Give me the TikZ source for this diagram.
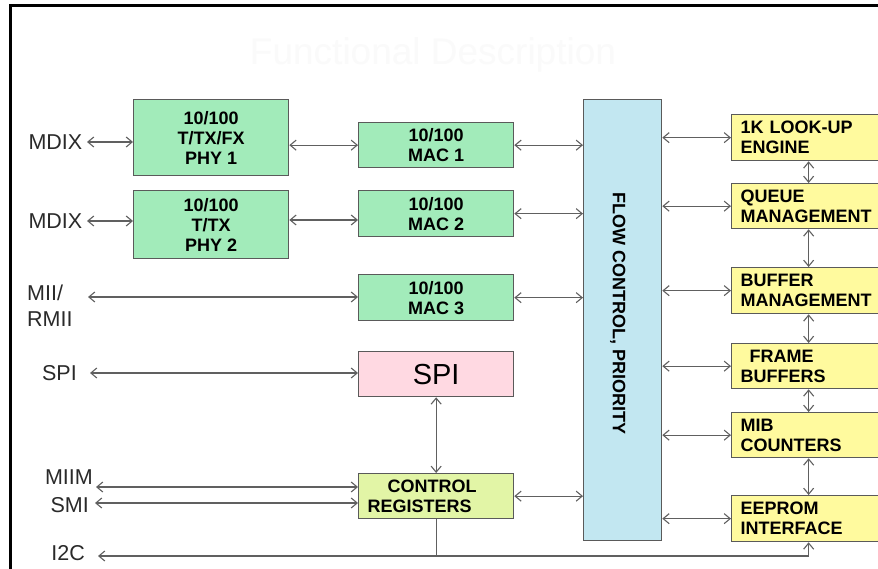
\documentclass[tikz,border=0pt]{standalone}
\usepackage{fontspec}
\setmainfont{Liberation Sans}
\usetikzlibrary{arrows.meta}

\definecolor{linegray}{HTML}{606060}
\definecolor{boxedge}{HTML}{5A5A5A}
\definecolor{macgreen}{HTML}{A2EBBA}
\definecolor{flowblue}{HTML}{C2E7F1}
\definecolor{blockyellow}{HTML}{FFFA9E}
\definecolor{regyellow}{HTML}{E2F5A6}
\definecolor{spipink}{HTML}{FFD9E2}
\definecolor{labelgray}{HTML}{2A2A2A}
\definecolor{titlegray}{HTML}{FAFAFA}

\tikzset{
  pbarb/.tip={Straight Barb[length=6pt,width=10pt]},
  box/.style={draw=boxedge, line width=1.3pt, inner sep=0pt, align=center,
              font=\bfseries\fontsize{18}{20}\selectfont, anchor=north west},
  greenbox/.style={box, fill=macgreen, minimum width=155},
  yellowbox/.style={box, fill=blockyellow, minimum width=154, text width=136,
                    inner xsep=9pt, align=left},
  port/.style={inner sep=0pt, text=labelgray, font=\fontsize{21.5}{26}\selectfont},
  arr/.style={draw=linegray, line width=1.1pt, pbarb-pbarb},
  wire/.style={draw=linegray, line width=1.1pt}
}

\begin{document}
\begin{tikzpicture}[x=1pt,y=-1pt]
\useasboundingbox (0,0) rectangle (878,569);
\fill[white] (0,0) rectangle (878,569);

% outer frame
\draw[black, line width=2.6pt] (10.3,5.3) rectangle (900,600);

% heading
\node[text=titlegray, font=\fontsize{37}{40}\selectfont] (title) at (433,55) {Functional Description};

% PHY and MAC blocks
\node[greenbox, minimum height=76] (phy1) at (133,99) {\raisebox{-3pt}{\parbox{150pt}{\centering 10/100\\T/TX/FX\\PHY 1}}};
\node[greenbox, minimum height=68] (phy2) at (133,190) {10/100\\T/TX\\PHY 2};
\node[greenbox, minimum height=45] (mac1) at (358,122) {10/100\\MAC 1};
\node[greenbox, minimum height=46] (mac2) at (358,190) {10/100\\MAC 2};
\node[greenbox, minimum height=46] (mac3) at (358,274) {10/100\\MAC 3};

% SPI and control registers
\node[box, fill=spipink, minimum width=155, minimum height=45,
      font=\fontsize{29}{32}\selectfont] (spi) at (358,351) {SPI};
\node[box, fill=regyellow, minimum width=155, minimum height=45, text width=137,
      inner xsep=9pt, align=left] (ctrl) at (358,473) {\hspace*{20pt}CONTROL\\REGISTERS};

% switch fabric
\node[box, fill=flowblue, minimum width=78, minimum height=441] (flow) at (583,99) {};
\node[font=\bfseries\fontsize{18}{20}\selectfont, rotate=-90] (flowtxt)
     at ([shift={(-5,-7)}]flow.center) {FLOW CONTROL, PRIORITY};

% right-hand blocks
\node[yellowbox, minimum height=46] (lookup) at (731,114) {1K LOOK-UP\\ENGINE};
\node[yellowbox, minimum height=45] (queue)  at (731,183) {QUEUE\\MANAGEMENT};
\node[yellowbox, minimum height=46] (buffer) at (731,267) {BUFFER\\MANAGEMENT};
\node[yellowbox, minimum height=45] (frame)  at (731,343) {\hspace*{9pt}FRAME\\BUFFERS};
\node[yellowbox, minimum height=45] (mib)    at (731,412) {MIB\\COUNTERS};
\node[yellowbox, minimum height=46] (eeprom) at (731,495) {EEPROM\\INTERFACE};

% external port labels
\node[port, anchor=east] (mdixa) at (82.5,142) {MDIX};
\node[port, anchor=east] (mdixb) at (82.5,221) {MDIX};
\node[port, anchor=north west, align=left] (mii) at (27,285) {MII/\\RMII};
\node[port, anchor=east] (spilbl) at (77,373) {SPI};
\node[port, anchor=east] (miim) at (93,477) {MIIM};
\node[port, anchor=east] (smi) at (89,505) {SMI};
\node[port, anchor=east] (i2c) at (85,553) {I2C};

% free ends of the port lines
\coordinate (pmdixa) at (87,142);
\coordinate (pmdixb) at (87,221);
\coordinate (pmii)   at (88,297);
\coordinate (pspi)   at (90,373);
\coordinate (pmiim)  at (96,487);
\coordinate (psmi)   at (95,503);
\coordinate (pi2c)   at (98,556);

% port connections
\draw[arr] (pmdixa) -- (phy1.west |- pmdixa);
\draw[arr] (pmdixb) -- (phy2.west |- pmdixb);
\draw[arr] (pmii) -- (mac3.west |- pmii);
\draw[arr] (pspi) -- (spi.west |- pspi);
\draw[arr] (pmiim) -- (ctrl.west |- pmiim);
\draw[arr] (psmi) -- (ctrl.west |- psmi);
\draw[arr] (pi2c) -- (pi2c -| eeprom.south) -- (eeprom.south);
\draw[wire] (ctrl.south) -- (ctrl.south |- pi2c);

% PHY to MAC
\draw[arr] (phy1.east |- mac1.west) -- (mac1.west);
\draw[arr] (phy2.east |- 0,220) -- (mac2.west |- 0,220);

% MAC and control to switch fabric
\draw[arr] (mac1.east) -- (flow.west |- mac1.east);
\draw[arr] (mac2.east) -- (flow.west |- mac2.east);
\draw[arr] (mac3.east) -- (flow.west |- mac3.east);
\draw[arr] (ctrl.east) -- (flow.west |- ctrl.east);
\draw[arr] (spi.south) -- (ctrl.north);

% switch fabric to right-hand blocks
\foreach \b in {lookup,queue,buffer,frame,mib,eeprom}
  \draw[arr] (flow.east |- \b.west) -- (\b.west);

% chain of right-hand blocks
\draw[arr] (lookup.south) -- (queue.north);
\draw[arr] (queue.south) -- (buffer.north);
\draw[arr] (buffer.south) -- (frame.north);
\draw[arr] (frame.south) -- (mib.north);
\draw[arr] (mib.south) -- (eeprom.north);
\end{tikzpicture}
\end{document}
